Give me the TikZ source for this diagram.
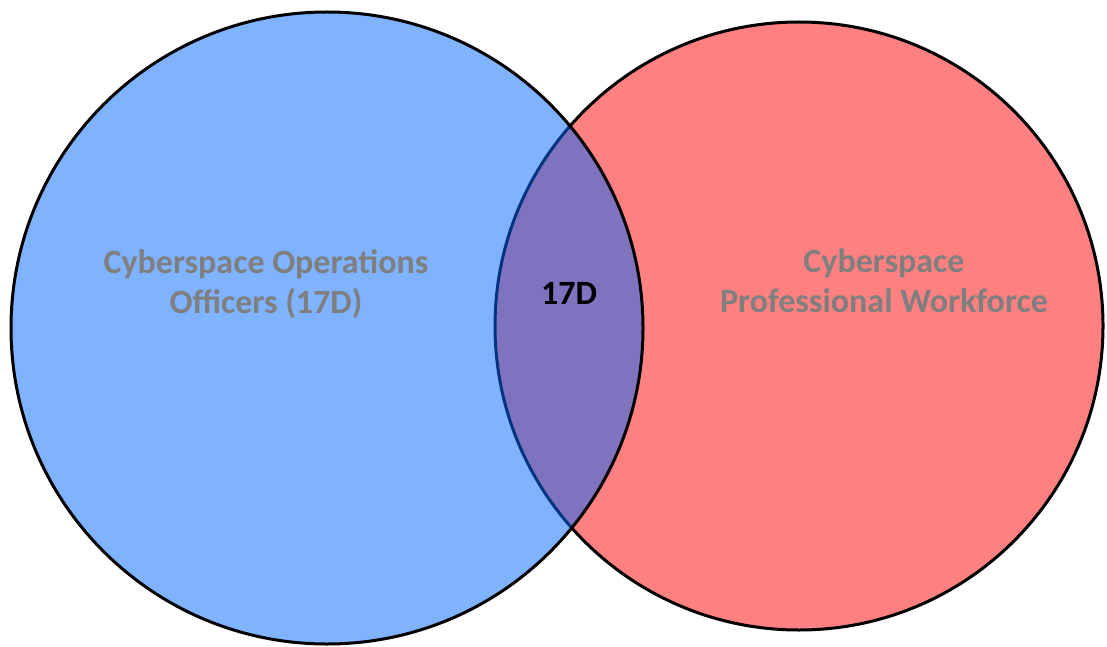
\documentclass[tikz,border=0pt]{standalone}
\usepackage{fontspec}
\setmainfont{Carlito}
\definecolor{setblue}{RGB}{0,102,255}
\definecolor{setred}{RGB}{255,128,128}
\definecolor{textgray}{RGB}{127,127,127}
\begin{document}
\begin{tikzpicture}[x=1pt,y=-1pt]
	\tikzstyle{set}=[circle,draw=black,line width=3pt,inner sep=0pt]
	\tikzstyle{settext}=[align=center,anchor=base,inner sep=0pt,font=\fontsize{34}{40}\selectfont\bfseries]

	\useasboundingbox (0,0) rectangle (1107,647);

	 \node [set,fill=setred,minimum size=608pt] (workforce) at (799,326) {};
	 \node [set,fill=setblue,fill opacity=0.5,minimum size=632pt] (officers) at (327,328) {};

	 \node [settext,text=textgray] (officerstext) at (266,313) {Cyberspace Operations\\Officers (17D)};
	 \node [settext,text=textgray] (workforcetext) at (884,312) {Cyberspace\\Professional Workforce};
	 \node [settext,text=black] (overlap) at (569,304) {17D};

\end{tikzpicture}
\end{document}
